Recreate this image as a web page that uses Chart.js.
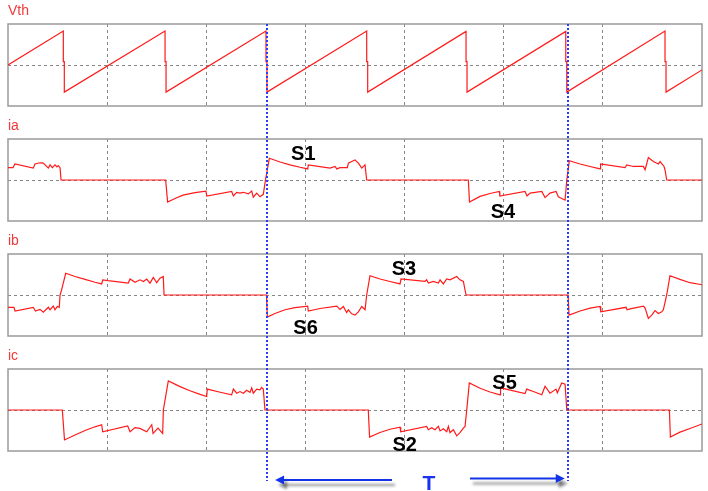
<!DOCTYPE html>
<html>
<head>
<meta charset="utf-8">
<script src="https://cdn.jsdelivr.net/npm/chart.js@4"></script>
<style>
  body { margin: 0; background: #fff; }
  #wrap { position: relative; width: 708px; height: 491px; }
  canvas { position: absolute; left: 0; }
</style>
</head>
<body>
<div id="wrap">
  <canvas id="p0" width="708" height="115" style="top:0px"></canvas>
  <canvas id="p1" width="708" height="115" style="top:115px"></canvas>
  <canvas id="p2" width="708" height="115" style="top:230px"></canvas>
  <canvas id="p3" width="708" height="115" style="top:345px"></canvas>
  <canvas id="over" width="708" height="491" style="top:0px"></canvas>
</div>
<script>
// time in ms (10 ms per division), values in per-unit of half panel height
const vth = [[0,0],[5.58,0.83],[5.58,0.08],[5.68,0.08],[5.68,-0.66],
  [15.84,0.83],[15.84,0.08],[15.94,0.08],[15.94,-0.66],
  [26.02,0.83],[26.02,0.08],[26.12,0.08],[26.12,-0.66],
  [36.18,0.83],[36.18,0.08],[36.28,0.08],[36.28,-0.66],
  [46.2,0.82],[46.2,0.08],[46.3,0.08],[46.3,-0.66],
  [56.26,0.82],[56.26,0.08],[56.36,0.08],[56.36,-0.66],
  [66.27,0.83],[66.27,0.08],[66.37,0.08],[66.37,-0.66],[70,-0.12]];

const ia = [[0,0.30],[0.5,0.30],[0.7,0.39],[2.55,0.29],[2.72,0.39],[3.23,0.42],[3.56,0.41],[4.07,0.29],
  [4.24,0.37],[4.47,0.30],[4.74,0.37],[4.94,0.32],[5.07,0.35],[5.25,0.30],[5.35,0],
  [15.9,0],[16.1,-0.54],[16.85,-0.45],[17.65,-0.37],[18.86,-0.31],[19.97,-0.27],[20.05,-0.39],
  [22.56,-0.28],[22.73,-0.39],[23.07,-0.30],[23.4,-0.32],[23.74,-0.30],[24.24,-0.34],[24.58,-0.27],
  [24.74,-0.42],[25.09,-0.32],[25.42,-0.41],[25.75,-0.35],[25.97,0],[26.36,0.53],[27.44,0.44],
  [28.44,0.37],[29.45,0.31],[30.23,0.27],[30.29,0.37],[32.48,0.29],[32.99,0.33],[33.16,0.27],
  [33.49,0.30],[34.23,0.30],[34.33,0.41],[34.67,0.45],[35.0,0.49],[35.34,0.41],[35.68,0.29],
  [36.01,0.37],[36.18,0],
  [46.43,0],[46.55,-0.54],[47.61,-0.40],[48.62,-0.33],[49.56,-0.28],[49.61,-0.39],[52.15,-0.28],
  [52.35,-0.39],[52.66,-0.32],[53.84,-0.28],[54.17,-0.43],[54.67,-0.32],[55.28,-0.28],[55.51,-0.41],
  [55.85,-0.45],[56.19,-0.49],[56.36,0],[56.62,0.47],[57.7,0.39],[58.71,0.33],[59.72,0.27],
  [59.77,0.39],[62.24,0.30],[62.41,0.37],[63.08,0.33],[64.09,0.33],[64.26,0.25],[64.59,0.55],
  [65.09,0.45],[65.6,0.39],[65.77,0.45],[66.17,0.33],[66.27,0.25],[66.44,0],[70,0]];

const ib = [[0,-0.30],[0.6,-0.30],[0.71,-0.39],[2.55,-0.30],[2.77,-0.39],[3.23,-0.35],[3.56,-0.42],
  [4.07,-0.30],[4.24,-0.36],[4.57,-0.27],[4.74,-0.36],[4.97,-0.28],[5.17,-0.30],[5.25,0],[5.4,0.12],
  [5.82,0.53],[6.76,0.45],[7.77,0.38],[8.78,0.31],[9.45,0.27],[9.55,0.37],[10.09,0.35],[12.13,0.29],
  [12.31,0.39],[12.81,0.31],[13.31,0.37],[13.65,0.33],[13.99,0.39],[14.32,0.29],[14.66,0.43],
  [15.0,0.30],[15.33,0.41],[15.66,0.45],[15.74,0],
  [26.07,0],[26.16,-0.54],[26.93,-0.45],[27.94,-0.36],[28.95,-0.31],[30.23,-0.27],[30.29,-0.39],
  [31.47,-0.33],[33.16,-0.27],[33.49,-0.35],[33.82,-0.28],[34.16,-0.43],[34.33,-0.36],[34.67,-0.46],
  [35.0,-0.49],[35.34,-0.41],[35.68,-0.28],[36.01,-0.36],[36.18,0],[36.51,0.47],[37.52,0.39],
  [38.53,0.33],[39.54,0.27],[39.64,0.39],[42.06,0.33],[42.23,0.37],[42.4,0.29],[42.9,0.33],
  [43.41,0.29],[43.58,0.37],[43.91,0.27],[44.25,0.39],[44.58,0.37],[45.26,0.45],[45.59,0.37],
  [45.93,0.33],[46.2,0],
  [56.49,0],[56.59,-0.49],[57.7,-0.39],[58.71,-0.32],[59.72,-0.28],[59.79,-0.41],[62.34,-0.30],
  [62.44,-0.36],[62.74,-0.34],[64.09,-0.27],[64.26,-0.32],[64.59,-0.57],[64.93,-0.49],[65.26,-0.38],
  [65.6,-0.45],[65.94,-0.41],[66.1,-0.36],[66.44,0],[66.77,0.47],[67.78,0.38],[68.79,0.30],[70,0.25]];

const ic = [[0,0],[5.48,0],[5.7,-0.73],[6.76,-0.61],[7.77,-0.50],[8.78,-0.41],[9.45,-0.36],[9.55,-0.53],
  [12.07,-0.39],[12.31,-0.53],[12.81,-0.43],[13.3,-0.45],[13.99,-0.53],[14.5,-0.36],[14.63,-0.57],
  [15.13,-0.44],[15.6,-0.57],[15.67,0],[16.17,0.71],[17.35,0.57],[18.36,0.47],[19.37,0.38],
  [20.04,0.33],[20.1,0.51],[21.3,0.44],[22.56,0.37],[22.73,0.51],[23.07,0.41],[23.4,0.45],[23.74,0.41],
  [24.07,0.48],[24.41,0.43],[24.58,0.54],[24.74,0.41],[25.09,0.51],[25.42,0.49],[25.59,0.55],
  [25.75,0.51],[25.92,0],
  [36.34,0],[36.47,-0.66],[37.52,-0.55],[38.53,-0.47],[39.54,-0.42],[39.61,-0.53],[42.23,-0.40],
  [42.4,-0.48],[42.74,-0.43],[43.07,-0.48],[43.41,-0.40],[43.58,-0.51],[43.91,-0.46],[44.25,-0.53],
  [44.42,-0.40],[44.58,-0.55],[44.92,-0.48],[45.26,-0.63],[45.59,-0.55],[45.93,-0.44],[46.1,-0.40],
  [46.27,0],[46.53,0.66],[47.61,0.53],[48.62,0.44],[49.63,0.37],[49.68,0.54],[52.15,0.40],
  [52.32,0.51],[52.99,0.45],[53.84,0.37],[54.17,0.58],[54.67,0.41],[55.28,0.51],[55.41,0.42],
  [55.85,0.66],[56.19,0.63],[56.36,0],
  [66.71,0],[66.81,-0.66],[67.78,-0.54],[68.79,-0.45],[70,-0.34]];

const labels = ["Vth", "ia", "ib", "ic"];
const notes = [[], [["S1",28.55,0.49],["S4",48.69,-0.93]], [["S3",38.7,0.50],["S6",28.78,-0.95]],
  [["S5",48.85,0.52],["S2",38.77,-0.99]]];
const period = [26.13, 56.46];

const RED = "#ff1a1a";
const GRID = "#858585";
const FONT = "'Liberation Sans', Arial, sans-serif";

const edgeless = (lo, hi) => (c) =>
  (c.tick && (c.tick.value === lo || c.tick.value === hi)) ? "rgba(0,0,0,0)" : GRID;

const framePlugin = {
  id: "frame",
  beforeDatasetsDraw(chart) {
    const { ctx, chartArea: a } = chart;
    ctx.save();
    ctx.strokeStyle = "#9a9a9a";
    ctx.lineWidth = 1.5;
    ctx.strokeRect(a.left, a.top, a.right - a.left, a.bottom - a.top);
    ctx.restore();
  },
  afterDraw(chart, args, opts) {
    const { ctx, chartArea: a, scales } = chart;
    ctx.save();
    ctx.fillStyle = "#ee3a3a";
    ctx.font = "14px " + FONT;
    ctx.textBaseline = "alphabetic";
    ctx.fillText(opts.label, a.left, a.top - 9.5);
    ctx.fillStyle = "#000";
    ctx.font = "bold 20px " + FONT;
    for (const [txt, t, v] of opts.notes) {
      ctx.fillText(txt, scales.x.getPixelForValue(t), scales.y.getPixelForValue(v));
    }
    ctx.restore();
  }
};

const series = [vth, ia, ib, ic];
const panels = series.map((s, i) => new Chart(document.getElementById("p" + i), {
  type: "line",
  data: {
    datasets: [{
      data: s.map(([x, y]) => ({ x, y })),
      borderColor: RED,
      borderWidth: 1.2,
      pointRadius: 0,
      tension: 0
    }]
  },
  options: {
    responsive: false,
    animation: false,
    events: [],
    layout: { padding: { left: 8, right: 6, top: 24, bottom: 9 } },
    plugins: {
      legend: { display: false },
      tooltip: { enabled: false },
      frame: { label: labels[i], notes: notes[i] }
    },
    scales: {
      x: {
        type: "linear", min: 0, max: 70,
        ticks: { display: false, stepSize: 10 },
        grid: { color: edgeless(0, 70), drawTicks: false, lineWidth: 1 },
        border: { display: false, dash: [3, 3] }
      },
      y: {
        min: -1, max: 1,
        ticks: { display: false, stepSize: 1 },
        grid: { color: edgeless(-1, 1), drawTicks: false, lineWidth: 1 },
        border: { display: false, dash: [3, 3] }
      }
    }
  },
  plugins: [framePlugin]
}));

// period marker, arrows and T across all panels
const ov = document.getElementById("over").getContext("2d");
const xs = panels[0].scales.x;
const xa = xs.getPixelForValue(period[0]);
const xb = xs.getPixelForValue(period[1]);
const top0 = panels[0].chartArea.top;

ov.save();
ov.strokeStyle = "#2a3cf5";
ov.lineWidth = 2;
ov.setLineDash([2, 2]);
for (const x of [xa, xb]) {
  ov.beginPath();
  ov.moveTo(Math.round(x), top0);
  ov.lineTo(Math.round(x), 481);
  ov.stroke();
}
ov.restore();

function arrow(from, to, y) {
  const dir = Math.sign(to - from);
  ov.save();
  ov.shadowColor = "rgba(0,0,0,0.45)";
  ov.shadowOffsetX = 3;
  ov.shadowOffsetY = 5;
  ov.shadowBlur = 3;
  ov.strokeStyle = "#1234e6";
  ov.fillStyle = "#1234e6";
  ov.lineWidth = 2.2;
  ov.beginPath();
  ov.moveTo(from, y);
  ov.lineTo(to - dir * 6, y);
  ov.stroke();
  ov.beginPath();
  ov.moveTo(to, y);
  ov.lineTo(to - dir * 9, y - 4.5);
  ov.lineTo(to - dir * 9, y + 4.5);
  ov.closePath();
  ov.fill();
  ov.restore();
}
arrow(392, xa + 8, 480);
arrow(470, xb - 3, 478.5);

ov.fillStyle = "#1a33ee";
ov.font = "bold 21px " + FONT;
ov.fillText("T", 422.5, 490);
</script>
</body>
</html>
